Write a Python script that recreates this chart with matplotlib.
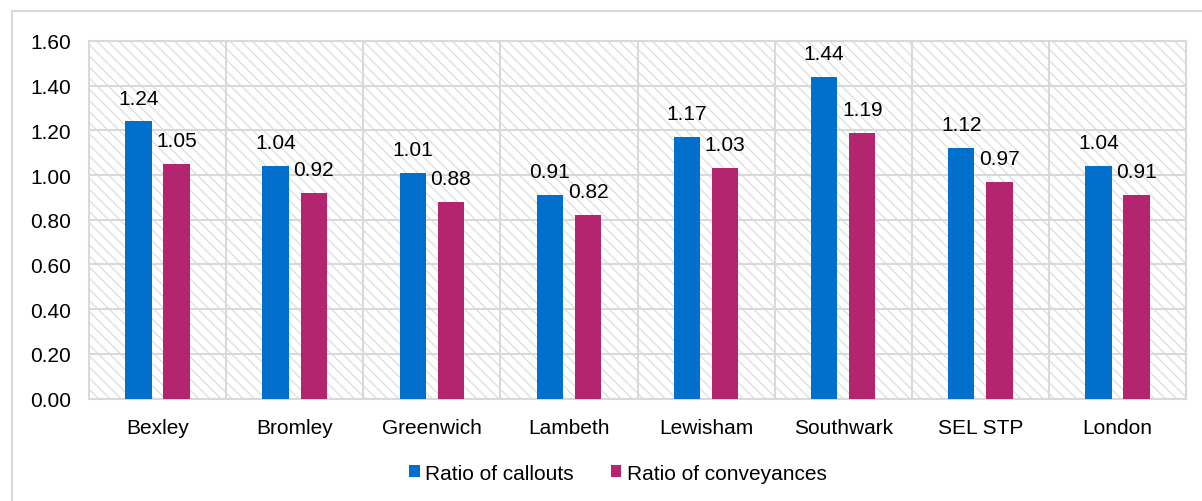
import matplotlib
matplotlib.use("Agg")
import matplotlib.pyplot as plt
from matplotlib.patches import Rectangle
import numpy as np

categories = ["Bexley", "Bromley", "Greenwich", "Lambeth", "Lewisham", "Southwark", "SEL STP", "London"]
callouts = [1.24, 1.04, 1.01, 0.91, 1.17, 1.44, 1.12, 1.04]
conveyances = [1.05, 0.92, 0.88, 0.82, 1.03, 1.19, 0.97, 0.91]
yticks = [0.0, 0.2, 0.4, 0.6, 0.8, 1.0, 1.2, 1.4, 1.6]

BLUE = "#0070CC"
MAGENTA = "#B3266F"
GRID = "#D9D9D9"

plt.rcParams['font.family'] = ['Liberation Sans', 'DejaVu Sans']
plt.rcParams['hatch.linewidth'] = 1.0

fig = plt.figure(figsize=(12.02, 5.02), dpi=100)
ax = fig.add_axes([89/1202, 1-399.5/502, (1186-89)/1202, (399.5-42)/502])

x = np.arange(len(categories))
w = 0.193
off = 0.139
b1 = ax.bar(x - off, callouts, w, color=BLUE, zorder=3, label="Ratio of callouts")
b2 = ax.bar(x + off, conveyances, w, color=MAGENTA, zorder=3, label="Ratio of conveyances")

for bars, vals in ((b1, callouts), (b2, conveyances)):
    for r, v in zip(bars, vals):
        ax.annotate(f"{v:.2f}", (r.get_x() + r.get_width()/2, v), xytext=(0, 10),
                    textcoords="offset points", ha="center", va="bottom", fontsize=15, zorder=4)

ax.set_xlim(-0.5, len(categories) - 0.5)
ax.set_ylim(0, 1.6)
ax.set_yticks(yticks)
ax.set_yticklabels([f"{t:.2f}" for t in yticks])
ax.set_xticks(x)
ax.set_xticklabels(categories)
ax.tick_params(axis='both', length=0, labelsize=15)
ax.tick_params(axis='x', pad=14)
ax.tick_params(axis='y', pad=13)

# background hatch
ax.patch.set_facecolor('white')
bg = Rectangle((0, 0), 1, 1, transform=ax.transAxes, facecolor='white', edgecolor='#E0E0E0',
               hatch='\\\\\\', linewidth=0, zorder=0)
ax.add_patch(bg)

for t in yticks:
    ax.axhline(t, color=GRID, lw=1.5, zorder=1)
for xv in np.arange(0.5, len(categories) - 0.5, 1):
    ax.axvline(xv, color=GRID, lw=1.5, zorder=1)
for s in ax.spines.values():
    s.set_color(GRID)
    s.set_linewidth(1.5)

leg = fig.legend(handles=[b1, b2], loc='center', bbox_to_anchor=(0.514, 1-474/502), ncol=2,
                 frameon=False, fontsize=15, handlelength=0.5, handleheight=0.5,
                 handletextpad=0.25, columnspacing=1.8)

# outer chart border
fig.add_artist(Rectangle((12/1202, -0.1), 1.2, 1-12/502+0.1, transform=fig.transFigure,
                         facecolor='none', edgecolor=GRID, lw=1.5))

fig.savefig("out.png", dpi=100)
